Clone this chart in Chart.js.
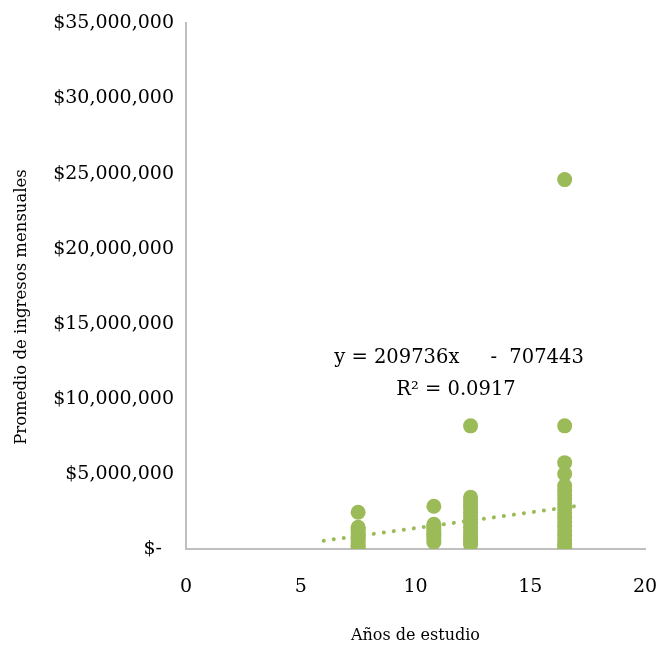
<!DOCTYPE html>
<html>
<head>
<meta charset="utf-8">
<script src="https://cdn.jsdelivr.net/npm/chart.js@4.4.1/dist/chart.umd.min.js"></script>
<style>
  html, body { margin: 0; padding: 0; background: #fff; }
  #wrap { width: 658px; height: 646px; }
</style>
</head>
<body>
<div id="wrap"><canvas id="scatterChart" width="658" height="646"></canvas></div>
<script>
// Años de estudio (x) y promedio de ingresos mensuales (y, en millones)
const xGroups = [7.5, 10.8, 12.4, 16.5];
const ingresos_7_5 = [2.45, 1.45, 1.3, 1.15, 1.0, 0.85, 0.7, 0.55, 0.4, 0.25, 0.1];
const ingresos_10_8 = [2.85, 1.65, 1.5, 1.35, 1.2, 1.05, 0.9, 0.75, 0.6, 0.45];
const ingresos_12_4 = [8.2, 3.45, 3.2, 2.95, 2.7, 2.45, 2.2, 1.95, 1.7, 1.45, 1.2, 0.95, 0.7, 0.5, 0.3];
const ingresos_16_5 = [24.6, 8.2, 5.75, 5.0, 4.2, 3.9, 3.6, 3.3, 3.0, 2.7, 2.4, 2.1, 1.8, 1.5, 1.2, 0.9, 0.6, 0.35, 0.15];
const yTicks = [0, 5, 10, 15, 20, 25, 30, 35];
const xTicks = [0, 5, 10, 15, 20];
// Línea de tendencia mostrada: y = 209736x - 707443, de x=6 a x=17
const trendSlope = 209736;
const trendIntercept = -707443;
const trendRange = [6, 17];

const green = "#9BBB59";
const axisGrey = "#BFBFBF";
const serif = "'DejaVu Serif', 'Liberation Serif', serif";

function toPoints(x, values) {
  return values.map(v => ({ x: x, y: v * 1000000 }));
}

const scatterData = []
  .concat(toPoints(xGroups[0], ingresos_7_5))
  .concat(toPoints(xGroups[1], ingresos_10_8))
  .concat(toPoints(xGroups[2], ingresos_12_4))
  .concat(toPoints(xGroups[3], ingresos_16_5));

const trendData = trendRange.map(x => ({ x: x, y: trendSlope * x + trendIntercept }));

// texto de la ecuación y título del eje vertical
const extraText = {
  id: "extraText",
  afterDraw(chart) {
    const ctx = chart.ctx;
    ctx.save();
    ctx.fillStyle = "#000";
    ctx.font = "19.5px " + serif;
    ctx.textAlign = "center";
    ctx.textBaseline = "middle";
    ctx.fillText("y = 209736x     -  707443", 459, 358);
    ctx.fillText("R\u00B2 = 0.0917", 456, 390);

    ctx.font = "16.5px " + serif;
    ctx.translate(22, 307);
    ctx.rotate(-Math.PI / 2);
    ctx.fillText("Promedio de ingresos mensuales", 0, 0);
    ctx.restore();
  }
};

const ctx = document.getElementById("scatterChart").getContext("2d");
new Chart(ctx, {
  type: "scatter",
  data: {
    datasets: [
      {
        label: "Promedio de ingresos mensuales",
        data: scatterData,
        backgroundColor: green,
        borderWidth: 0,
        pointRadius: 7.5,
        pointHoverRadius: 7.5,
        order: 2
      },
      {
        label: "Tendencia",
        type: "line",
        data: trendData,
        borderColor: green,
        borderWidth: 4,
        borderDash: [0.1, 10],
        borderCapStyle: "round",
        pointRadius: 0,
        fill: false,
        order: 1
      }
    ]
  },
  options: {
    responsive: false,
    animation: false,
    layout: { padding: { left: 0, right: 13, top: 20, bottom: 0 } },
    plugins: {
      legend: { display: false },
      tooltip: { enabled: false }
    },
    scales: {
      x: {
        type: "linear",
        min: 0,
        max: 20,
        afterBuildTicks: s => { s.ticks = xTicks.map(v => ({ value: v })); },
        afterFit: s => { s.height = 97; s.paddingLeft = 0; s.paddingRight = 0; },
        grid: { display: false, drawTicks: false },
        border: { display: true, color: axisGrey, width: 2 },
        ticks: { color: "#000", font: { family: serif, size: 19 }, padding: 27 },
        title: {
          display: true,
          text: "Años de estudio",
          color: "#000",
          font: { family: serif, size: 16 },
          padding: { top: 0, bottom: 1 }
        }
      },
      y: {
        type: "linear",
        min: 0,
        max: 35000000,
        afterBuildTicks: s => { s.ticks = yTicks.map(v => ({ value: v * 1000000 })); },
        afterFit: s => { s.width = 186; },
        grid: { display: false, drawTicks: false },
        border: { display: true, color: axisGrey, width: 2 },
        ticks: {
          color: "#000",
          font: { family: serif, size: 19 },
          padding: 12,
          callback: v => v === 0 ? "$-  " : "$" + v.toLocaleString("en-US")
        }
      }
    }
  },
  plugins: [extraText]
});
</script>
</body>
</html>
